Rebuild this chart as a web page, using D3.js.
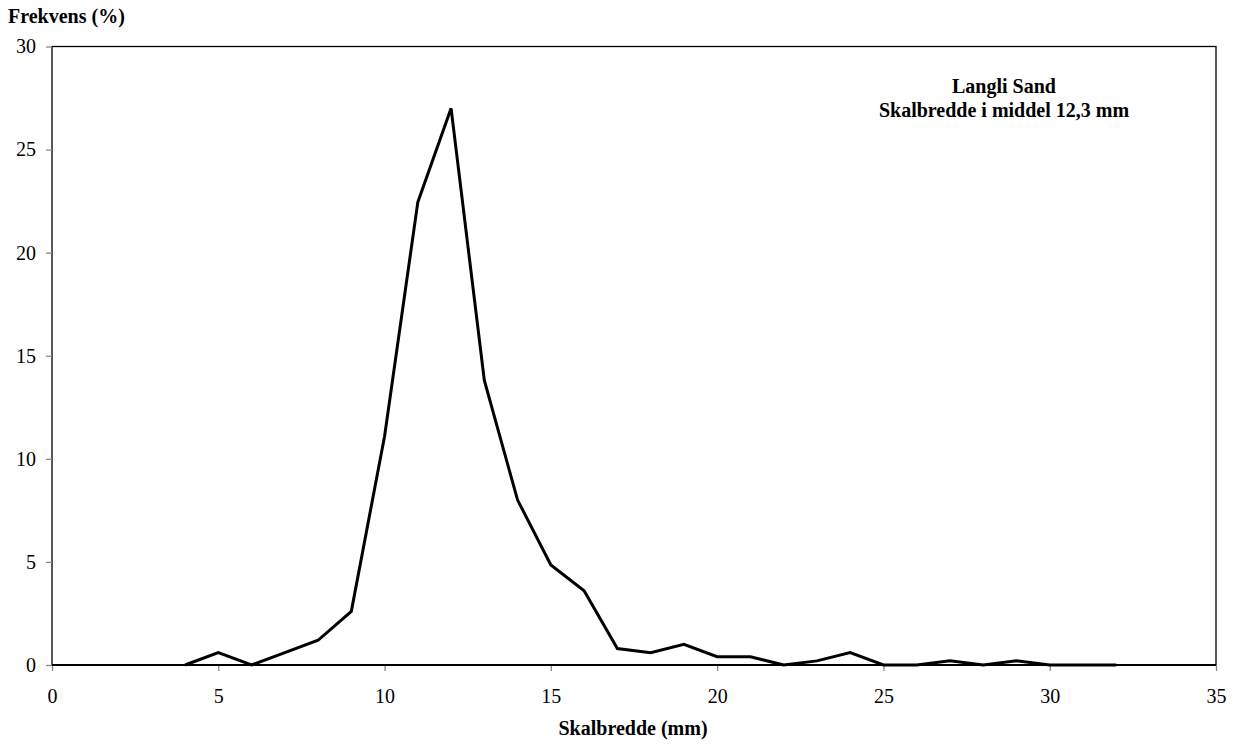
<!DOCTYPE html>
<html>
<head>
<meta charset="utf-8">
<script src="https://cdn.jsdelivr.net/npm/d3@7"></script>
<style>
	body { margin: 0; background: #fff; }
	svg text { font-family: "Liberation Serif", "Times New Roman", serif; fill: #000; }
</style>
</head>
<body>
<svg id="chart" width="1235" height="746"></svg>
<script>
// skalbredde (mm) og frekvens (%)
var widths = [4, 5, 6, 7, 8, 9, 10, 11, 12, 13, 14, 15, 16, 17, 18, 19, 20, 21, 22, 23, 24, 25, 26, 27, 28, 29, 30, 31, 32];
var freqs = [0, 0.6, 0, 0.6, 1.2, 2.6, 11.1, 22.45, 27, 13.8, 8, 4.85, 3.6, 0.8, 0.6, 1.0, 0.4, 0.4, 0, 0.2, 0.6, 0, 0, 0.2, 0, 0.2, 0, 0, 0];
var xTicks = [0, 5, 10, 15, 20, 25, 30, 35];
var yTicks = [0, 5, 10, 15, 20, 25, 30];
var noteLines = ["Langli Sand", "Skalbredde i middel 12,3 mm"];

var svg = d3.select("#chart");
// note: "top" is window.top, so use other names
var plotLeft = 52, plotRight = 1216, plotTop = 46.5, plotBottom = 665;
var serif = "'Liberation Serif', 'Times New Roman', serif";

var xscale = d3.scaleLinear().domain([0, 35]).range([plotLeft, plotRight]);
var yscale = d3.scaleLinear().domain([0, 30]).range([plotBottom, plotTop]);

// frame
svg.append("rect")
	.attr("x", plotLeft)
	.attr("y", plotTop)
	.attr("width", plotRight - plotLeft)
	.attr("height", plotBottom - plotTop)
	.attr("fill", "none")
	.attr("stroke", "#000")
	.attr("stroke-width", 1.3);

var yAxis = d3.axisLeft(yscale).tickValues(yTicks).tickSize(6).tickPadding(10);
var gy = svg.append("g").attr("transform", "translate(" + plotLeft + ",0)").call(yAxis);
gy.attr("font-family", serif);
gy.select(".domain").remove();
gy.selectAll(".tick line").attr("stroke", "#888").attr("stroke-width", 1.3);
gy.selectAll(".tick text").style("font-size", "20px").attr("fill", "#000");

var xAxis = d3.axisBottom(xscale).tickValues(xTicks).tickSize(6).tickPadding(18);
var gx = svg.append("g").attr("transform", "translate(0," + plotBottom + ")").call(xAxis);
gx.attr("font-family", serif);
gx.select(".domain").remove();
gx.selectAll(".tick line").attr("stroke", "#888").attr("stroke-width", 1.3);
gx.selectAll(".tick text").style("font-size", "20px").attr("fill", "#000");

// baseline
svg.append("line")
	.attr("x1", plotLeft).attr("x2", plotRight)
	.attr("y1", yscale(0)).attr("y2", yscale(0))
	.attr("stroke", "#000")
	.attr("stroke-width", 2.2);

var line = d3.line()
	.x(function (d, i) { return xscale(widths[i]); })
	.y(function (d) { return yscale(d); });

svg.append("path")
	.datum(freqs)
	.attr("d", line)
	.attr("fill", "none")
	.attr("stroke", "#000")
	.attr("stroke-width", 3)
	.attr("stroke-linejoin", "miter");

svg.append("text")
	.attr("x", 8).attr("y", 23)
	.style("font-size", "20px").style("font-weight", "bold")
	.text("Frekvens (%)");

svg.append("text")
	.attr("x", (plotLeft + plotRight) / 2 - 1).attr("y", 735)
	.attr("text-anchor", "middle")
	.style("font-size", "20px").style("font-weight", "bold")
	.text("Skalbredde (mm)");

svg.append("g").selectAll("text")
	.data(noteLines)
	.join("text")
	.attr("x", 1004)
	.attr("y", function (d, i) { return 93 + i * 24; })
	.attr("text-anchor", "middle")
	.style("font-size", "20px").style("font-weight", "bold")
	.text(function (d) { return d; });
</script>
</body>
</html>
